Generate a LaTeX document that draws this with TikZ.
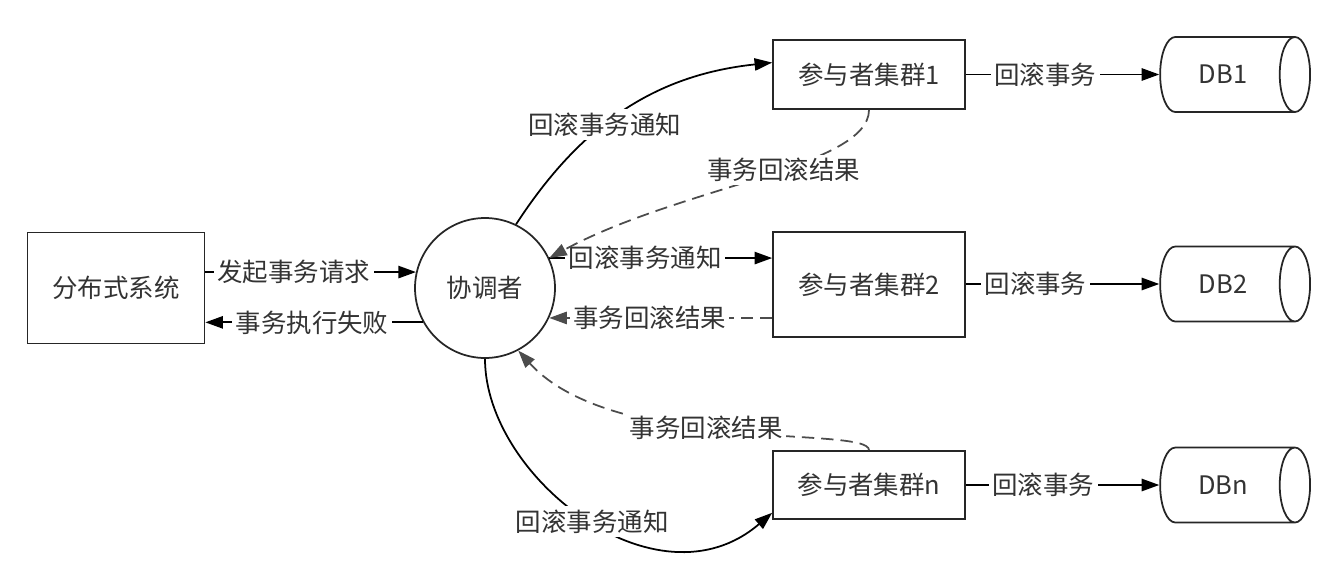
\documentclass[tikz,border=0pt]{standalone}
\usepackage{fontspec}
\setmainfont{Noto Sans CJK SC}
\usetikzlibrary{arrows.meta,positioning,shapes.geometric}

\begin{document}
\begin{tikzpicture}[
  x=0.02cm,y=0.02cm,
  font=\fontsize{14.5pt}{17pt}\selectfont,
  box/.style={draw=black!85,line width=1pt,minimum width=3.84cm,text=black!80},
  store/.style={draw=black!85,line width=1pt,cylinder,aspect=1,minimum width=1.5cm,minimum height=3cm,text=black!80},
  tip/.style={-{Triangle[length=10pt,width=7pt]}},
  go/.style={tip,line width=1pt,black},
  back/.style={tip,line width=1pt,black!70,dash pattern=on 7pt off 4pt},
  lbl/.style={fill=white,inner sep=2pt,text=black!80}
]
  \useasboundingbox (0,0) rectangle (1344,586);

  \node[box,minimum width=3.54cm,minimum height=2.22cm] (sys) at (116,298) {分布式系统};
  \node[circle,draw=black!85,line width=1pt,minimum size=2.8cm,text=black!80] (coord) at (485,298) {协调者};
  \node[box,minimum height=1.38cm] (p1) at (869,511.5) {参与者集群1};
  \node[box,minimum height=2.1cm] (p2) at (869,301.5) {参与者集群2};
  \node[box,minimum height=1.36cm] (pn) at (869,101) {参与者集群n};
  \node[store] (db1) at (1223,511.5) {DB1};
  \node[store] (db2) at (1223,302) {DB2};
  \node[store] (dbn) at (1223,101) {DBn};

  \draw[go] (sys.east |- coord.167) -- node[lbl,pos=0.42]{发起事务请求} (coord.167);
  \draw[go] (coord.209) -- node[lbl,pos=0.51]{事务执行失败} (sys.east |- coord.209);
  \draw[go] (coord.25) -- node[lbl,pos=0.43]{回滚事务通知} (p2.west |- coord.25);
  \draw[back] (p2.west |- coord.335) -- node[lbl,pos=0.55]{事务回滚结果} (coord.335);

  \draw[go] (coord.64) to[out=57,in=186] node[lbl,pos=0.42]{回滚事务通知} (p1.173);
  \draw[back] (p1.south) .. controls +(0,-57) and +(130,71) .. node[lbl,pos=0.43]{事务回滚结果} (coord.25);
  \draw[go] (coord.south) .. controls +(0,-118) and +(-115,-99) .. node[lbl,pos=0.52]{回滚事务通知} (pn.196);
  \draw[back] (pn.north) .. controls +(0,25) and +(95,-105) .. node[lbl,pos=0.55]{事务回滚结果} (coord.298);

  \draw[go] (p1.east) -- node[lbl,pos=0.41]{回滚事务} (db1.west);
  \draw[go] (p2.east |- db2.west) -- node[lbl,pos=0.36]{回滚事务} (db2.west);
  \draw[go] (pn.east) -- node[lbl,pos=0.4]{回滚事务} (dbn.west);
\end{tikzpicture}
\end{document}
